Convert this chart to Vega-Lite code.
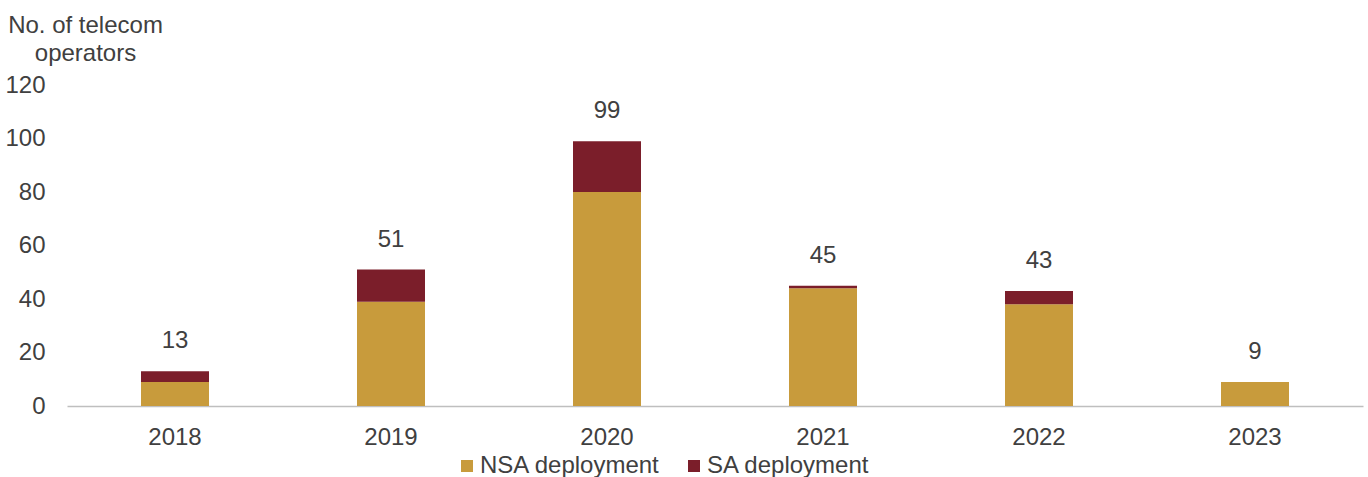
{
  "$schema": "https://vega.github.io/schema/vega-lite/v6.json",
  "autosize": {"type": "none"},
  "width": 1296,
  "height": 321,
  "padding": {"left": 67, "top": 85, "right": 5, "bottom": 71},
  "background": "white",
  "config": {
    "font": "Liberation Sans",
    "view": {"stroke": null},
    "axis": {"labelFont": "Liberation Sans", "titleFont": "Liberation Sans", "labelColor": "#404040", "titleColor": "#404040", "labelFontSize": 24, "titleFontSize": 24, "titleFontWeight": "normal", "grid": false},
    "legend": {"labelFont": "Liberation Sans", "labelColor": "#404040", "labelFontSize": 24}
  },
  "data": {
    "values": [
      {"year": "2018", "type": "NSA deployment", "value": 9},
      {"year": "2018", "type": "SA deployment", "value": 4},
      {"year": "2019", "type": "NSA deployment", "value": 39},
      {"year": "2019", "type": "SA deployment", "value": 12},
      {"year": "2020", "type": "NSA deployment", "value": 80},
      {"year": "2020", "type": "SA deployment", "value": 19},
      {"year": "2021", "type": "NSA deployment", "value": 44},
      {"year": "2021", "type": "SA deployment", "value": 1},
      {"year": "2022", "type": "NSA deployment", "value": 38},
      {"year": "2022", "type": "SA deployment", "value": 5},
      {"year": "2023", "type": "NSA deployment", "value": 9},
      {"year": "2023", "type": "SA deployment", "value": 0}
    ]
  },
  "encoding": {
    "x": {
      "field": "year", "type": "nominal",
      "scale": {"paddingInner": 0, "paddingOuter": 0},
      "axis": {"title": null, "labelAngle": 0, "ticks": false, "tickSize": 0, "labelPadding": 19, "domainColor": "#BFBFBF", "domainWidth": 1.5}
    }
  },
  "layer": [
    {
      "mark": {"type": "bar", "size": 68},
      "encoding": {
        "y": {
          "field": "value", "type": "quantitative", "stack": "zero",
          "scale": {"domain": [0, 120], "nice": false},
          "axis": {
            "values": [0, 20, 40, 60, 80, 100, 120],
            "domain": false, "ticks": false, "tickSize": 0, "labelPadding": 22,
            "title": ["No. of telecom", "operators"],
            "titleAngle": 0, "titleAlign": "center", "titleBaseline": "alphabetic",
            "titleX": 18, "titleY": -53, "titleLineHeight": 28
          }
        },
        "color": {
          "field": "type", "type": "nominal",
          "scale": {"domain": ["NSA deployment", "SA deployment"], "range": ["#C89B3C", "#7B1E2A"]},
          "legend": {
            "title": null, "orient": "none", "direction": "horizontal",
            "legendX": 388, "legendY": 369, "padding": 0,
            "symbolType": "square", "symbolSize": 144, "symbolStrokeWidth": 0,
            "labelOffset": 1, "columnPadding": 21, "labelLimit": 0
          }
        },
        "order": {"field": "type", "sort": "ascending"}
      }
    },
    {
      "transform": [{"aggregate": [{"op": "sum", "field": "value", "as": "total"}], "groupby": ["year"]}],
      "mark": {"type": "text", "baseline": "alphabetic", "dy": -23, "fontSize": 24, "color": "#404040", "font": "Liberation Sans"},
      "encoding": {
        "y": {"field": "total", "type": "quantitative"},
        "text": {"field": "total", "type": "quantitative"}
      }
    }
  ]
}
